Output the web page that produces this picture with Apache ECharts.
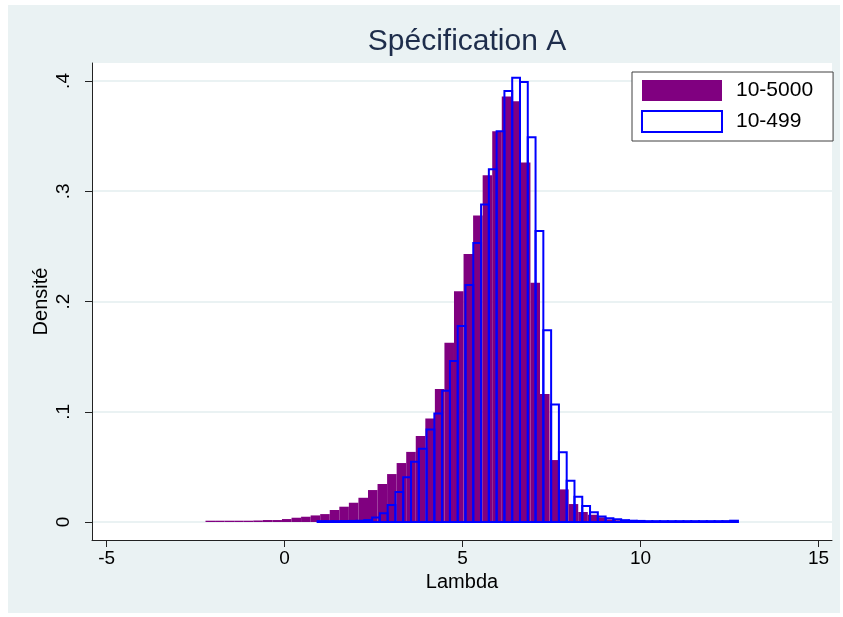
<!DOCTYPE html>
<html>
<head>
<meta charset="utf-8">
<script src="https://cdn.jsdelivr.net/npm/echarts@6/dist/echarts.min.js"></script>
<style>
  html, body { margin: 0; padding: 0; background: #fff; }
  #main { width: 843px; height: 617px; }
</style>
</head>
<body>
<div id="main"></div>
<script>
// histogram 10-5000 (purple, filled)
var purpleStart = -2.221, purpleWidth = 0.2685;
var purpleDensity = [
  0.0012, 0.0012, 0.0012, 0.0012, 0.0012, 0.0014, 0.0018, 0.0018, 0.0027, 0.0039,
  0.0048, 0.0060, 0.0072, 0.0109, 0.0139, 0.0175, 0.0220, 0.0290, 0.0345, 0.0435,
  0.0535, 0.0636, 0.0780, 0.0940, 0.1206, 0.1626, 0.2094, 0.2430, 0.2780, 0.3146,
  0.3545, 0.3860, 0.3817, 0.3260, 0.2170, 0.1160, 0.0562, 0.0296, 0.0163, 0.0091,
  0.0066, 0.0043, 0.0024, 0.0016, 0.0012, 0.0010, 0.0008, 0.0008, 0.0008, 0.0008,
  0.0008, 0.0008, 0.0008, 0.0008, 0.0012
];
// histogram 10-499 (blue outline)
var blueStart = 0.928, blueWidth = 0.2187;
var blueDensity = [
  0.0008, 0.0008, 0.0008, 0.0009, 0.0010, 0.0012, 0.0018, 0.0040, 0.0079, 0.0154,
  0.0272, 0.0405, 0.0547, 0.0665, 0.0840, 0.0985, 0.1190, 0.1460, 0.1777, 0.2150,
  0.2530, 0.2880, 0.3200, 0.3545, 0.3910, 0.4030, 0.3990, 0.3490, 0.2640, 0.1740,
  0.1067, 0.0632, 0.0375, 0.0230, 0.0145, 0.0088, 0.0050, 0.0035, 0.0025, 0.0017,
  0.0012, 0.0010, 0.0008, 0.0008, 0.0008, 0.0008, 0.0008, 0.0008, 0.0008, 0.0008,
  0.0008, 0.0008, 0.0008, 0.0012
];
var xTicks = [-5, 0, 5, 10, 15];
var yTicks = [0, 0.1, 0.2, 0.3, 0.4];

function bins(start, width, dens) {
  return dens.map(function (d, i) {
    return [start + i * width, start + (i + 1) * width, d];
  });
}

function histItem(style) {
  return function (params, api) {
    var p0 = api.coord([api.value(0), api.value(2)]);
    var p1 = api.coord([api.value(1), 0]);
    return {
      type: 'rect',
      shape: { x: p0[0], y: p0[1], width: p1[0] - p0[0], height: p1[1] - p0[1] },
      style: style
    };
  };
}

var font = 'Liberation Sans, Arial, sans-serif';
var chart = echarts.init(document.getElementById('main'));

chart.setOption({
  animation: false,
  graphic: [{
    type: 'rect', z: -10, silent: true,
    shape: { x: 8, y: 5, width: 832, height: 608 },
    style: { fill: '#eaf2f3' }
  }],
  title: {
    text: 'Spécification A',
    left: 462, top: 22, textAlign: 'center',
    textStyle: { fontFamily: font, fontSize: 30, fontWeight: 'normal', color: '#1e2d4b' }
  },
  legend: {
    left: 632, top: 72,
    orient: 'vertical',
    backgroundColor: '#fff',
    borderColor: '#404040', borderWidth: 1,
    padding: [8, 20, 8, 9],
    itemWidth: 80, itemHeight: 21, itemGap: 9,
    textStyle: { fontFamily: font, fontSize: 21, color: '#000', padding: [0, 0, 0, 9] },
    data: [
      { name: '10-5000', icon: 'rect', itemStyle: { color: '#800080', borderWidth: 0 } },
      { name: '10-499', icon: 'rect', itemStyle: { color: '#fff', borderColor: '#0000ff', borderWidth: 2 } }
    ]
  },
  grid: {
    left: 92, right: 11, top: 63, bottom: 77,
    show: true, backgroundColor: '#fff', borderWidth: 0
  },
  xAxis: {
    type: 'value', min: -5.41, max: 15.38,
    name: 'Lambda', nameLocation: 'middle', nameGap: 30,
    nameTextStyle: { fontFamily: font, fontSize: 20, color: '#000' },
    axisLine: { onZero: false, lineStyle: { color: '#222', width: 1 } },
    axisTick: { customValues: xTicks, length: 7, lineStyle: { color: '#222' } },
    axisLabel: { customValues: xTicks, margin: 9, fontFamily: font, fontSize: 19, color: '#000' },
    splitLine: { show: false }
  },
  yAxis: {
    type: 'value', min: -0.0163, max: 0.4163,
    name: 'Densité', nameLocation: 'middle', nameGap: 41, nameMoveOverlap: false,
    nameTextStyle: { fontFamily: font, fontSize: 20, color: '#000' },
    axisLine: { show: true, onZero: false, lineStyle: { color: '#222', width: 1 } },
    axisTick: { show: true, customValues: yTicks, length: 7, lineStyle: { color: '#222' } },
    axisLabel: {
      customValues: yTicks, rotate: 90, margin: 19,
      fontFamily: font, fontSize: 19, color: '#000',
      formatter: function (v) { return v === 0 ? '0' : String(v).replace('0.', '.'); }
    },
    splitLine: { show: true, lineStyle: { color: '#eaf2f3', width: 2 } }
  },
  series: [
    {
      name: '10-5000', type: 'custom',
      renderItem: histItem({ fill: '#800080' }),
      encode: { x: [0, 1], y: 2 },
      data: bins(purpleStart, purpleWidth, purpleDensity)
    },
    {
      name: '10-499', type: 'custom',
      renderItem: histItem({ fill: 'none', stroke: '#0000ff', lineWidth: 2 }),
      encode: { x: [0, 1], y: 2 },
      data: bins(blueStart, blueWidth, blueDensity)
    }
  ]
});
</script>
</body>
</html>
